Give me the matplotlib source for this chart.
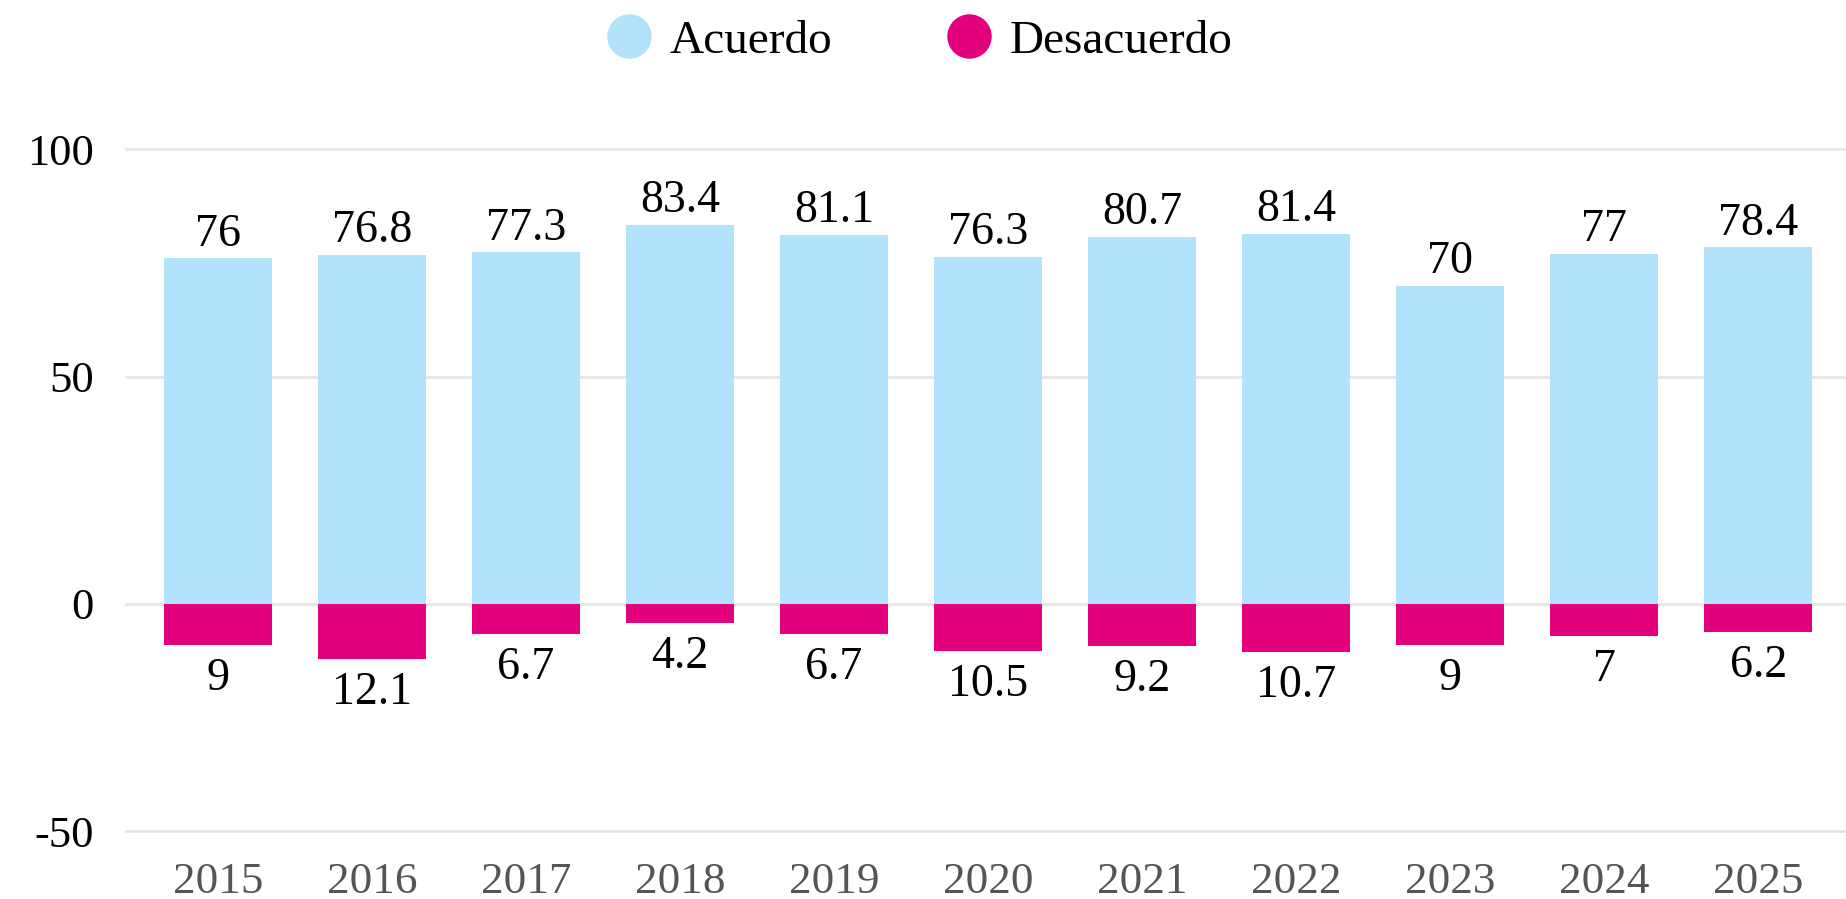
import matplotlib
matplotlib.use("Agg")
import matplotlib.pyplot as plt
from matplotlib.lines import Line2D

years = ["2015", "2016", "2017", "2018", "2019", "2020", "2021", "2022", "2023", "2024", "2025"]
acuerdo = [76, 76.8, 77.3, 83.4, 81.1, 76.3, 80.7, 81.4, 70, 77, 78.4]
desacuerdo = [9, 12.1, 6.7, 4.2, 6.7, 10.5, 9.2, 10.7, 9, 7, 6.2]
yticks = [-50, 0, 50, 100]

BLUE = "#B3E2FC"
PINK = "#E3007D"
FONT = ["Liberation Serif", "DejaVu Serif"]
plt.rcParams["font.family"] = FONT

fig = plt.figure(figsize=(18.46, 8.99), dpi=100)
ax = fig.add_axes([0.068, 0.0756, 0.932, 0.7584])

x = list(range(len(years)))
ax.bar(x, acuerdo, width=0.70, color=BLUE, zorder=2)
ax.bar(x, [-d for d in desacuerdo], width=0.70, color=PINK, zorder=2)

def fmt(v):
    return f"{v:g}"

for xi, a, d in zip(x, acuerdo, desacuerdo):
    ax.annotate(fmt(a), (xi, a), xytext=(0, 2), textcoords="offset points",
                ha="center", va="bottom", fontsize=33, color="black")
    ax.annotate(fmt(d), (xi, -d), xytext=(0, -9), textcoords="offset points",
                ha="center", va="top", fontsize=33, color="black")

ax.set_xlim(-0.6, 10.57)
ax.set_ylim(-50, 100)
ax.set_yticks(yticks)
ax.set_yticklabels([str(t) for t in yticks])
ax.set_xticks(x)
ax.set_xticklabels(years)
ax.tick_params(axis="y", length=0, pad=23, labelsize=32, labelcolor="black")
ax.tick_params(axis="x", length=0, pad=22, labelsize=32.5, labelcolor="#555555")
for s in ax.spines.values():
    s.set_visible(False)
ax.grid(axis="y", color="#e6e6e6", linewidth=2, zorder=0)
ax.set_axisbelow(True)
for gl in ax.get_ygridlines():
    gl.set_clip_on(False)

handles = [
    Line2D([], [], marker="o", linestyle="none", markersize=31, markerfacecolor=BLUE, markeredgecolor=BLUE),
    Line2D([], [], marker="o", linestyle="none", markersize=31, markerfacecolor=PINK, markeredgecolor=PINK),
]
fig.legend(handles, ["Acuerdo", "Desacuerdo"], loc="center", bbox_to_anchor=(0.4965, 1 - 41 / 899),
           ncol=2, frameon=False, fontsize=34, handletextpad=0.25, columnspacing=2.3, handlelength=1.2)

fig.savefig("out.png", dpi=100)
